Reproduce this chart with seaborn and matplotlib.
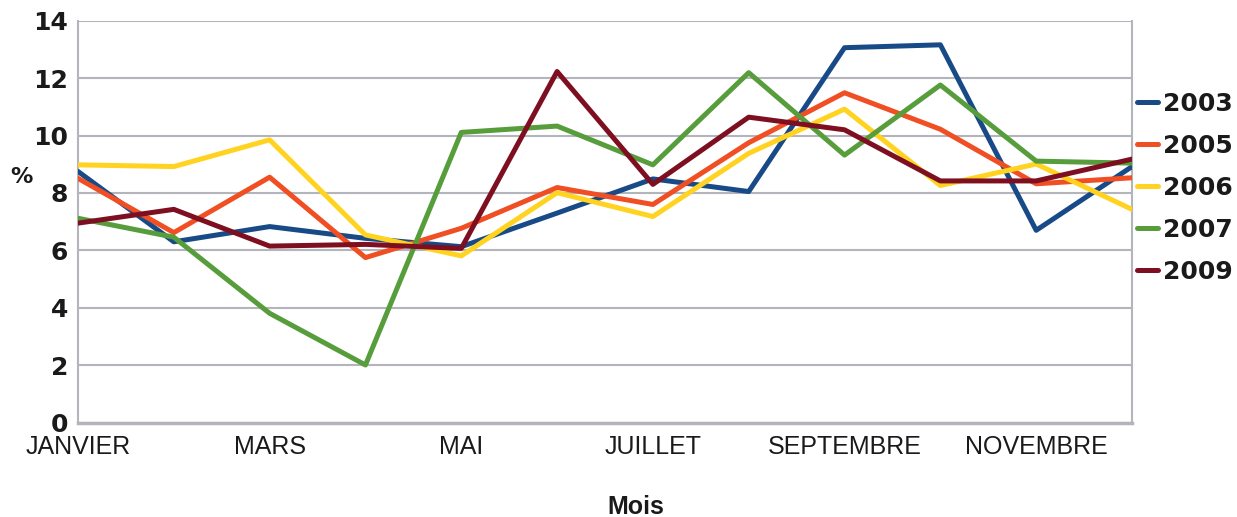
import matplotlib
matplotlib.use("Agg")
import matplotlib.pyplot as plt
import seaborn as sns
import pandas as pd

months = ["JANVIER", "FEVRIER", "MARS", "AVRIL", "MAI", "JUIN", "JUILLET",
          "AOUT", "SEPTEMBRE", "OCTOBRE", "NOVEMBRE", "DECEMBRE"]
tick_labels = ["JANVIER", "MARS", "MAI", "JUILLET", "SEPTEMBRE", "NOVEMBRE"]
years = ["2003", "2005", "2006", "2007", "2009"]

v2003 = [8.75, 6.3, 6.83, 6.42, 6.13, 7.3, 8.49, 8.05, 13.06, 13.16, 6.7, 8.92]
v2005 = [8.51, 6.62, 8.55, 5.75, 6.77, 8.19, 7.6, 9.75, 11.49, 10.22, 8.32, 8.53]
v2006 = [8.98, 8.92, 9.85, 6.54, 5.81, 8.01, 7.18, 9.38, 10.92, 8.26, 9.01, 7.43]
v2007 = [7.12, 6.46, 3.81, 2.01, 10.11, 10.33, 8.98, 12.19, 9.32, 11.76, 9.11, 9.04]
v2009 = [6.95, 7.43, 6.15, 6.21, 6.07, 12.23, 8.3, 10.64, 10.2, 8.42, 8.42, 9.18]

colors = ["#174a87", "#f04e23", "#ffd320", "#579d3c", "#7e0f21"]

series = [v2003, v2005, v2006, v2007, v2009]
rows = []
for y, vals in zip(years, series):
    for i, v in enumerate(vals):
        rows.append({"Mois": i, "val": v, "Année": y})
df = pd.DataFrame(rows)

sns.set_theme(style="white")
plt.rcParams["font.family"] = ["Liberation Sans", "DejaVu Sans"]
BOLD = ["DejaVu Sans"]
TXT = "#1a1a1a"

W, H = 1237, 517
L, R, T, B = 78, 1132, 20.7, 422.7
fig = plt.figure(figsize=(W / 100, H / 100), dpi=100)
ax = fig.add_axes([L / W, 1 - B / H, (R - L) / W, (B - T) / H])

sns.lineplot(data=df, x="Mois", y="val", hue="Année", palette=colors,
             hue_order=years, linewidth=3.6, ax=ax, legend=True, zorder=3)

ax.set_xlim(0, 11)
ax.set_ylim(0, 14)
ax.set_yticks(range(0, 15, 2))
ax.set_yticklabels([str(t) for t in range(0, 15, 2)], fontsize=18, fontweight="bold",
                   family=BOLD, color=TXT)
ax.set_xticks([0, 2, 4, 6, 8, 10])
ax.set_xticklabels(tick_labels, fontsize=18, color=TXT)
ax.tick_params(axis="y", length=0, pad=7)
ax.tick_params(axis="x", length=0, pad=9)

ax.grid(axis="y", color="#b4b4bc", linewidth=1.5, zorder=0)
ax.grid(axis="x", visible=False)
for s in ["left", "right", "bottom"]:
    ax.spines[s].set_visible(True)
    ax.spines[s].set_color("#b4b4bc")
    ax.spines[s].set_linewidth(1.5)
ax.spines["bottom"].set_linewidth(2.5)
ax.spines["top"].set_visible(False)

ax.set_xlabel("Mois", fontsize=18, fontweight="bold", color=TXT, va="center")
ax.xaxis.set_label_coords((636 - L) / (R - L), (B - 507) / (B - T))
ax.set_ylabel("%", fontsize=16, fontweight="bold", family=BOLD, rotation=0,
              color=TXT, va="center", ha="center")
ax.yaxis.set_label_coords((21 - L) / (R - L), (B - 177) / (B - T))

handles, labels = ax.get_legend_handles_labels()
leg = ax.legend(handles, labels, loc="center left",
                bbox_to_anchor=((1137 - L) / (R - L), (B - 187.5) / (B - T)),
                frameon=False, prop={"family": "DejaVu Sans", "weight": "bold", "size": 18},
                handlelength=0.85, handletextpad=0.2, labelspacing=0.72,
                borderaxespad=0, borderpad=0)
for t in leg.get_texts():
    t.set_color(TXT)
for l in leg.get_lines():
    l.set_linewidth(3.6)

fig.savefig("out.png", dpi=100)
